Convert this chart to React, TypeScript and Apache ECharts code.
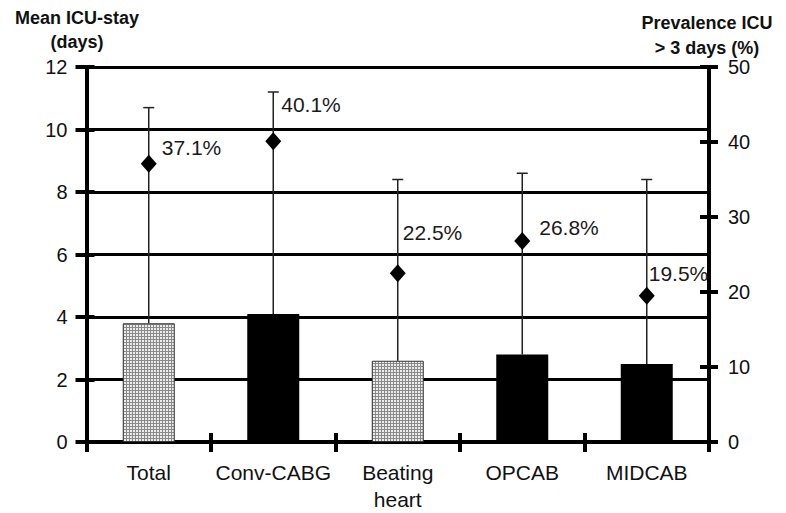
import React, { useEffect, useRef } from "react";
import * as echarts from "echarts";

const categories = ["Total", "Conv-CABG", "Beating\nheart", "OPCAB", "MIDCAB"];
const meanStay = [3.8, 4.1, 2.6, 2.8, 2.5];
const stayUpper = [10.7, 11.2, 8.4, 8.6, 8.4];
const prevalence = [37.1, 40.1, 22.5, 26.8, 19.5];
const patterned = [true, false, true, false, false];
const leftTicks = { min: 0, max: 12, interval: 2 };
const rightTicks = { min: 0, max: 50, interval: 10 };
const labelOffsets = [
  [13, -16],
  [8, -37],
  [5, -41],
  [17, -14],
  [2, -22],
];

const FONT = "'Liberation Sans', Arial, sans-serif";

function makePattern(): any {
  const c = document.createElement("canvas");
  c.width = 3;
  c.height = 3;
  const ctx = c.getContext("2d")!;
  ctx.fillStyle = "#ececec";
  ctx.fillRect(0, 0, 3, 3);
  ctx.fillStyle = "#8a8a8a";
  ctx.fillRect(0, 0, 3, 1);
  ctx.fillRect(0, 0, 1, 3);
  return { image: c, repeat: "repeat" };
}

export default function App() {
  const ref = useRef<HTMLDivElement>(null);
  useEffect(() => {
    document.body.style.margin = "0";
    const chart = echarts.init(ref.current!, null, { renderer: "svg" });
    const pattern = makePattern();
    const axisLabelStyle = { color: "#111", fontFamily: FONT, fontSize: 20 };
    const tickStyle = { color: "#000", width: 4 };
    const option: any = {
      animation: false,
      backgroundColor: "#fff",
      grid: { left: 86.5, right: 77, top: 67, bottom: 71, containLabel: false },
      xAxis: [
        {
          type: "category",
          data: categories,
          position: "bottom",
          axisLine: { show: true, onZero: false, lineStyle: { color: "#000", width: 4 } },
          axisTick: { show: false },
          axisLabel: { ...axisLabelStyle, fontSize: 21, margin: 17, lineHeight: 27, interval: 0 },
          splitLine: { show: false },
        },
        {
          type: "category",
          data: categories,
          position: "bottom",
          offset: -9,
          axisLine: { show: false, onZero: false },
          axisTick: { show: true, interval: 0, length: 19, lineStyle: tickStyle },
          axisLabel: { show: false, interval: 0 },
          splitLine: { show: false },
        },
      ],
      yAxis: [
        {
          type: "value",
          position: "left",
          ...leftTicks,
          axisLine: { show: true, lineStyle: { color: "#000", width: 4 } },
          axisTick: { show: true, length: 11, lineStyle: tickStyle },
          axisLabel: { ...axisLabelStyle, margin: 19 },
          splitLine: { show: true, lineStyle: { color: "#000", width: 3 } },
        },
        {
          type: "value",
          position: "left",
          ...leftTicks,
          axisLine: { show: false },
          axisTick: { show: true, inside: true, length: 8, lineStyle: tickStyle },
          axisLabel: { show: false },
          splitLine: { show: false },
        },
        {
          type: "value",
          position: "right",
          ...rightTicks,
          axisLine: { show: true, lineStyle: { color: "#000", width: 4 } },
          axisTick: { show: true, length: 9, lineStyle: tickStyle },
          axisLabel: { ...axisLabelStyle, margin: 19 },
          splitLine: { show: false },
        },
        {
          type: "value",
          position: "right",
          ...rightTicks,
          axisLine: { show: false },
          axisTick: { show: true, inside: true, length: 9, lineStyle: tickStyle },
          axisLabel: { show: false },
          splitLine: { show: false },
        },
      ],
      graphic: [
        {
          type: "text",
          x: 77,
          y: 6,
          style: {
            text: "Mean ICU-stay\n(days)",
            fill: "#111",
            font: `bold 18px ${FONT}`,
            textAlign: "center",
            lineHeight: 24,
          },
        },
        {
          type: "text",
          x: 707,
          y: 10,
          style: {
            text: "Prevalence ICU\n> 3 days (%)",
            fill: "#111",
            font: `bold 18px ${FONT}`,
            textAlign: "center",
            lineHeight: 25,
          },
        },
      ],
      series: [
        {
          type: "bar",
          xAxisIndex: 0,
          yAxisIndex: 0,
          barWidth: 52,
          z: 2,
          data: meanStay.map((v, i) => ({
            value: v,
            itemStyle: patterned[i]
              ? { color: pattern, borderColor: "#333", borderWidth: 1 }
              : { color: "#000" },
          })),
        },
        {
          type: "custom",
          xAxisIndex: 0,
          yAxisIndex: 0,
          z: 3,
          data: meanStay.map((v, i) => [i, v, stayUpper[i]]),
          encode: { x: 0, y: [1, 2] },
          renderItem: (params: any, api: any) => {
            const i = api.value(0);
            const lo = api.coord([i, api.value(1)]);
            const hi = api.coord([i, api.value(2)]);
            const half = 5.5;
            const st = { stroke: "#222", lineWidth: 1.5 };
            return {
              type: "group",
              children: [
                { type: "line", shape: { x1: lo[0], y1: lo[1], x2: hi[0], y2: hi[1] }, style: st },
                { type: "line", shape: { x1: hi[0] - half, y1: hi[1], x2: hi[0] + half, y2: hi[1] }, style: st },
              ],
            };
          },
        },
        {
          type: "scatter",
          xAxisIndex: 0,
          yAxisIndex: 2,
          z: 4,
          symbol: "diamond",
          symbolSize: [16, 18],
          itemStyle: { color: "#000", opacity: 1 },
          data: prevalence.map((v, i) => ({
            value: v,
            label: {
              show: true,
              position: "inside",
              offset: labelOffsets[i],
              align: "left",
              verticalAlign: "middle",
              formatter: `${v.toFixed(1)}%`,
              color: "#1a1a1a",
              fontFamily: FONT,
              fontSize: 21,
            },
          })),
        },
      ],
    };
    chart.setOption(option);
    return () => chart.dispose();
  }, []);
  return <div ref={ref} style={{ width: 786, height: 513 }} />;
}
